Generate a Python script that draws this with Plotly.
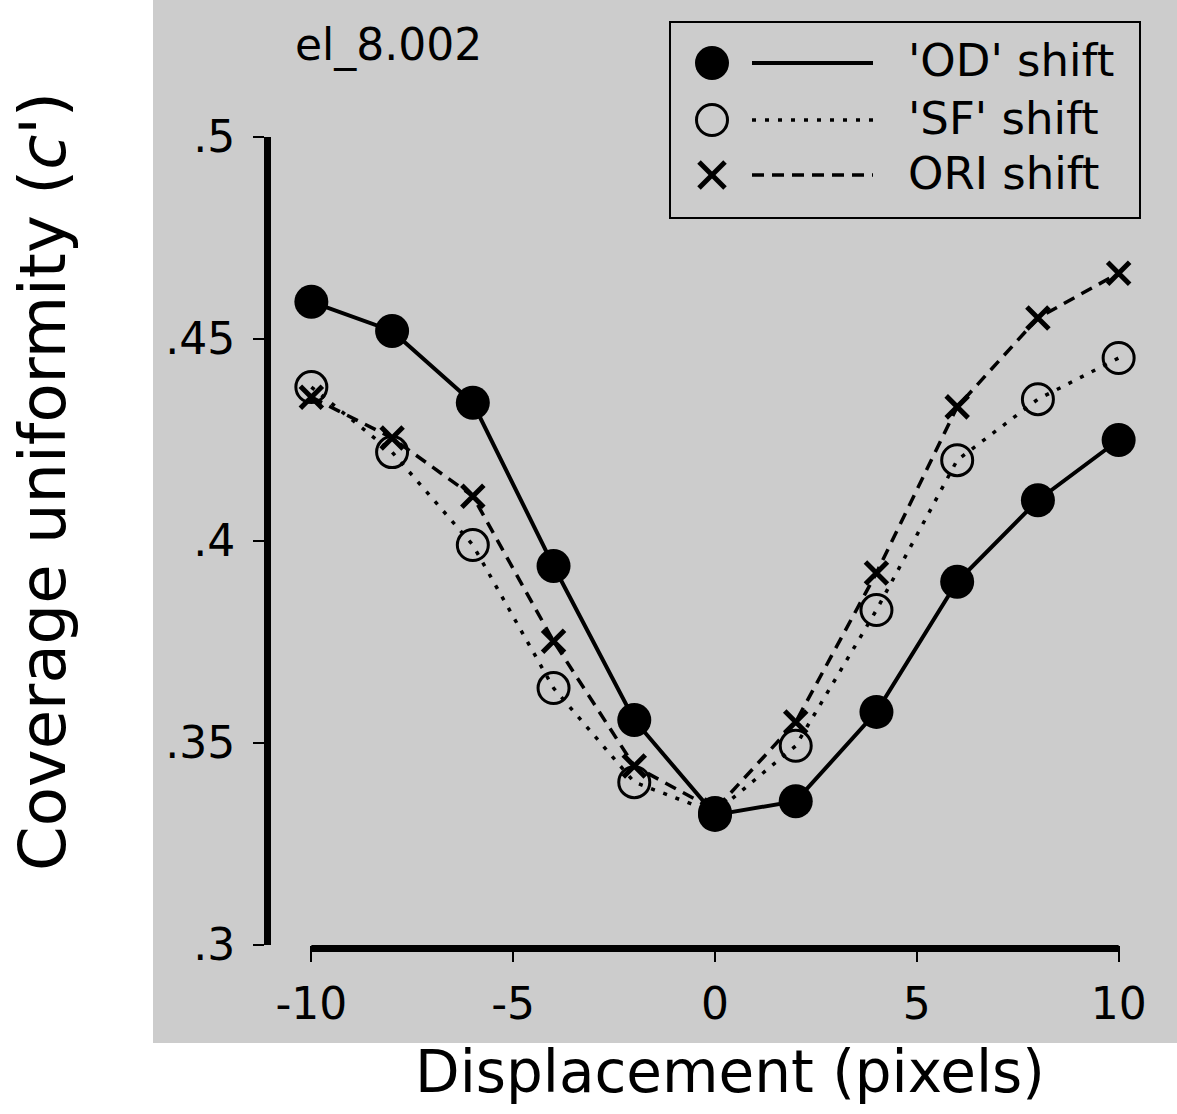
import plotly.graph_objects as go

# ---- data ----
displacement = [-10, -8, -6, -4, -2, 0, 2, 4, 6, 8, 10]
od_shift = [0.4592, 0.4520, 0.4342, 0.3938, 0.3557, 0.3322, 0.3356, 0.3577, 0.3899, 0.4101, 0.4250]
sf_shift = [0.4381, 0.4220, 0.3990, 0.3636, 0.3403, 0.3327, 0.3493, 0.3829, 0.4200, 0.4351, 0.4453]
ori_shift = [0.4356, 0.4255, 0.4111, 0.3752, 0.3443, 0.3334, 0.3552, 0.3921, 0.4332, 0.4552, 0.4663]

x_ticks = [-10, -5, 0, 5, 10]
x_ticktext = ["-10", "-5", "0", "5", "10"]
y_ticks = [0.3, 0.35, 0.4, 0.45, 0.5]
y_ticktext = [".3", ".35", ".4", ".45", ".5"]

legend_names = ["'OD' shift", "'SF' shift", "ORI shift"]
panel_label = "el_8.002"

# ---- layout geometry (pixels) ----
W_FIG, H_FIG = 1177, 1114
L, R, T, B = 271, 18, 137, 169
PW = W_FIG - L - R
PH = H_FIG - T - B
FONT = "DejaVu Sans"
GRAY = "#cccccc"


def px(xp):
    return (xp - L) / PW


def py(yp):
    return (H_FIG - B - yp) / PH


fig = go.Figure()

fig.add_trace(go.Scatter(
    x=displacement, y=sf_shift, mode="lines+markers", name=legend_names[1],
    line=dict(color="black", width=3.5, dash="4px,9px"),
    marker=dict(symbol="circle-open", size=31, color="black", line=dict(width=3)),
    cliponaxis=False, showlegend=False))
fig.add_trace(go.Scatter(
    x=displacement, y=ori_shift, mode="lines+markers", name=legend_names[2],
    line=dict(color="black", width=3.5, dash="12px,8px"),
    marker=dict(symbol="x-thin", size=22, color="black", line=dict(width=5, color="black")),
    cliponaxis=False, showlegend=False))
fig.add_trace(go.Scatter(
    x=displacement, y=od_shift, mode="lines+markers", name=legend_names[0],
    line=dict(color="black", width=4),
    marker=dict(symbol="circle", size=34, color="black"),
    cliponaxis=False, showlegend=False))

shapes = []
# gray panel background
shapes.append(dict(type="rect", xref="paper", yref="paper",
                   x0=px(153), x1=px(1190), y0=py(1043), y1=py(-10),
                   fillcolor=GRAY, line=dict(width=0), layer="below"))
# x axis line (only spanning -10..10)
shapes.append(dict(type="line", xref="x", yref="paper",
                   x0=-10, x1=10, y0=py(948.5), y1=py(948.5),
                   line=dict(color="black", width=7)))
# legend box
shapes.append(dict(type="rect", xref="paper", yref="paper",
                   x0=px(670), x1=px(1140), y0=py(218), y1=py(22),
                   line=dict(color="black", width=2), fillcolor=GRAY))
rows = [63, 120, 175]
mx = 712
# legend glyphs
r = 17
shapes.append(dict(type="circle", xref="paper", yref="paper",
                   x0=px(mx - r), x1=px(mx + r), y0=py(rows[0] + r), y1=py(rows[0] - r),
                   fillcolor="black", line=dict(color="black", width=0)))
r2 = 15.5
shapes.append(dict(type="circle", xref="paper", yref="paper",
                   x0=px(mx - r2), x1=px(mx + r2), y0=py(rows[1] + r2), y1=py(rows[1] - r2),
                   line=dict(color="black", width=3)))
a = 13
for s in (1, -1):
    shapes.append(dict(type="line", xref="paper", yref="paper",
                       x0=px(mx - a), x1=px(mx + a),
                       y0=py(rows[2] - s * a), y1=py(rows[2] + s * a),
                       line=dict(color="black", width=5)))
dashes = ["solid", "4px,9px", "12px,8px"]
widths = [4, 3.5, 3.5]
for yrow, d, w in zip(rows, dashes, widths):
    shapes.append(dict(type="line", xref="paper", yref="paper",
                       x0=px(752), x1=px(873), y0=py(yrow), y1=py(yrow),
                       line=dict(color="black", width=w, dash=d)))

annotations = []
for yrow, name in zip(rows, legend_names):
    annotations.append(dict(xref="paper", yref="paper", x=px(906), y=py(yrow - 2),
                            text=name, showarrow=False, xanchor="left", yanchor="middle",
                            font=dict(family=FONT, size=45, color="black")))
annotations.append(dict(xref="paper", yref="paper", x=px(293), y=py(45),
                        text=panel_label, showarrow=False, xanchor="left", yanchor="middle",
                        font=dict(family=FONT, size=44, color="black")))
annotations.append(dict(xref="paper", yref="paper", x=px(730), y=py(1072),
                        text="Displacement (pixels)", showarrow=False,
                        xanchor="center", yanchor="middle",
                        font=dict(family=FONT, size=58, color="black")))
annotations.append(dict(xref="paper", yref="paper", x=px(43), y=py(482),
                        text="Coverage uniformity (<i>c'</i>)", showarrow=False,
                        textangle=-90, xanchor="center", yanchor="middle",
                        font=dict(family=FONT, size=64, color="black")))

fig.update_layout(
    width=W_FIG, height=H_FIG, autosize=False,
    margin=dict(l=L, r=R, t=T, b=B, pad=0),
    paper_bgcolor="white", plot_bgcolor="rgba(0,0,0,0)",
    shapes=shapes, annotations=annotations, showlegend=False,
    xaxis=dict(range=[-11, 11], showgrid=False, zeroline=False, showline=False,
               tickvals=x_ticks, ticktext=x_ticktext, ticks="outside",
               ticklen=16, tickwidth=2, tickcolor="black", ticklabelstandoff=4,
               tickfont=dict(family=FONT, size=44, color="black")),
    yaxis=dict(range=[0.3, 0.5], showgrid=False, zeroline=False,
               showline=True, linewidth=7, linecolor="black",
               tickvals=y_ticks, ticktext=y_ticktext, ticks="outside",
               ticklen=11, tickwidth=2, tickcolor="black", ticklabelstandoff=9,
               tickfont=dict(family=FONT, size=44, color="black")),
)

fig.write_html("out.html")
